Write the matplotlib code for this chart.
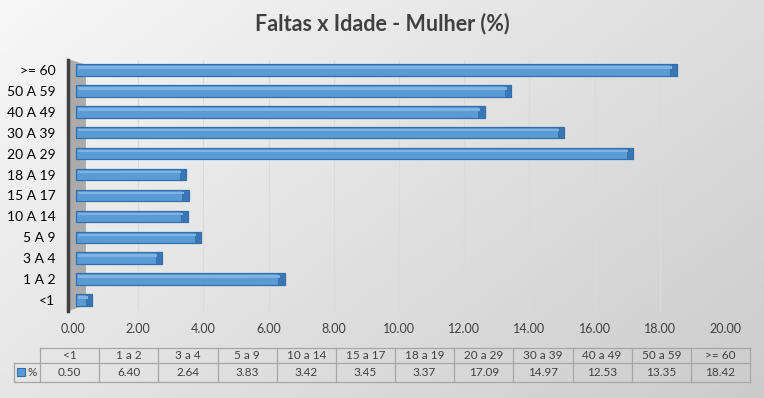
import numpy as np
import matplotlib
matplotlib.use('Agg')
import matplotlib.pyplot as plt
from matplotlib.patches import Polygon, Rectangle

# data
faixas = ['<1', '1 A 2', '3 A 4', '5 A 9', '10 A 14', '15 A 17', '18 A 19',
          '20 A 29', '30 A 39', '40 A 49', '50 A 59', '>= 60']
faixas_tabela = ['<1', '1 a 2', '3 a 4', '5 a 9', '10 a 14', '15 a 17', '18 a 19',
                 '20 a 29', '30 a 39', '40 a 49', '50 a 59', '>= 60']
percentual = [0.50, 6.40, 2.64, 3.83, 3.42, 3.45, 3.37, 17.09, 14.97, 12.53, 13.35, 18.42]
x_ticks = [0, 2, 4, 6, 8, 10, 12, 14, 16, 18, 20]

W, H = 764, 398
plt.rcParams['font.family'] = ['Lato', 'DejaVu Sans']
fig = plt.figure(figsize=(W / 100, H / 100), dpi=100)

# background gradient (light top-left to darker bottom-right)
bg = fig.add_axes([0, 0, 1, 1], zorder=0)
yy, xx = np.mgrid[0:1:200j, 0:1:400j]
g = 0.97 - 0.17 * (0.6 * xx + 0.4 * yy)
bg.imshow(np.dstack([g, g, g]), extent=[0, W, H, 0], aspect='auto')
bg.set_xlim(0, W)
bg.set_ylim(H, 0)
bg.axis('off')

# main plot
ax = fig.add_axes([68 / W, 87.5 / H, 657 / W, 251 / H], zorder=1)
ax.patch.set_alpha(0)
y = np.arange(len(faixas))
vals = np.array(percentual)

# grey side wall
ax.add_patch(Polygon([[-0.1, -0.5], [0.4, -0.25], [0.4, 11.25], [-0.1, 11.5]],
                     closed=True, facecolor='#ababab', edgecolor='none', zorder=1))
for t in x_ticks[1:]:
    ax.axvline(t, color='#dadada', lw=0.8, zorder=0)

ax.barh(y, vals, height=0.55, left=0.1, color='#5b9bd5',
        edgecolor='#2f6fae', linewidth=0.9, zorder=3)
# darker end face for the 3D look
ax.barh(y, [0.2] * len(y), left=vals - 0.1, height=0.55,
        color='#3a76b4', edgecolor='#2f6fae', linewidth=0.6, zorder=4)
# lighter top strip
ax.barh(y + 0.12, vals - 0.2, left=0.15, height=0.12,
        color='#80b3e2', edgecolor='none', zorder=4)

ax.set_xlim(-0.15, 20)
ax.set_ylim(-0.5, 11.5)
ax.set_yticks(y)
ax.set_yticklabels(faixas, fontsize=9, color='#404040')
ax.set_xticks(x_ticks)
ax.set_xticklabels(['%.2f' % t for t in x_ticks], fontsize=9, color='#404040')
ax.tick_params(axis='both', length=0)
ax.tick_params(axis='x', pad=9)
ax.tick_params(axis='y', pad=9)
for s in ['top', 'right', 'bottom']:
    ax.spines[s].set_visible(False)
ax.spines['left'].set_color('#404040')
ax.spines['left'].set_linewidth(2.5)
ax.spines['left'].set_position(('data', -0.15))

fig.text(0.5, 0.94, 'Faltas x Idade - Mulher (%)', ha='center', va='center',
         fontsize=15.5, fontweight='bold', color='#404040')

# data table
tb = fig.add_axes([0, 0, 1, 1], zorder=2)
tb.set_xlim(0, W)
tb.set_ylim(H, 0)
tb.axis('off')
tb.patch.set_alpha(0)
x0, x1 = 40, 750
cw = (x1 - x0) / len(faixas_tabela)
r0, r1, r2 = 348, 363, 382
lc = '#a6a6a6'
tb.plot([x0, x1], [r0, r0], color=lc, lw=0.9)
tb.plot([14, x1], [r1, r1], color=lc, lw=0.9)
tb.plot([14, x1], [r2, r2], color=lc, lw=0.9)
tb.plot([14, 14], [r1, r2], color=lc, lw=0.9)
for i in range(len(faixas_tabela) + 1):
    xv = x0 + i * cw
    tb.plot([xv, xv], [r0, r2], color=lc, lw=0.9)
for i, (lab, v) in enumerate(zip(faixas_tabela, percentual)):
    xc = x0 + (i + 0.5) * cw
    tb.text(xc, (r0 + r1) / 2, lab, ha='center', va='center', fontsize=8.5, color='#404040')
    tb.text(xc, (r1 + r2) / 2, '%.2f' % v, ha='center', va='center', fontsize=8.5, color='#404040')
tb.add_patch(Rectangle((17, 368), 8, 8, facecolor='#5b9bd5', edgecolor='#2f6fae', lw=0.8))
tb.text(28, (r1 + r2) / 2, '%', ha='left', va='center', fontsize=8.5, color='#404040')

fig.savefig('out.png', dpi=100)
